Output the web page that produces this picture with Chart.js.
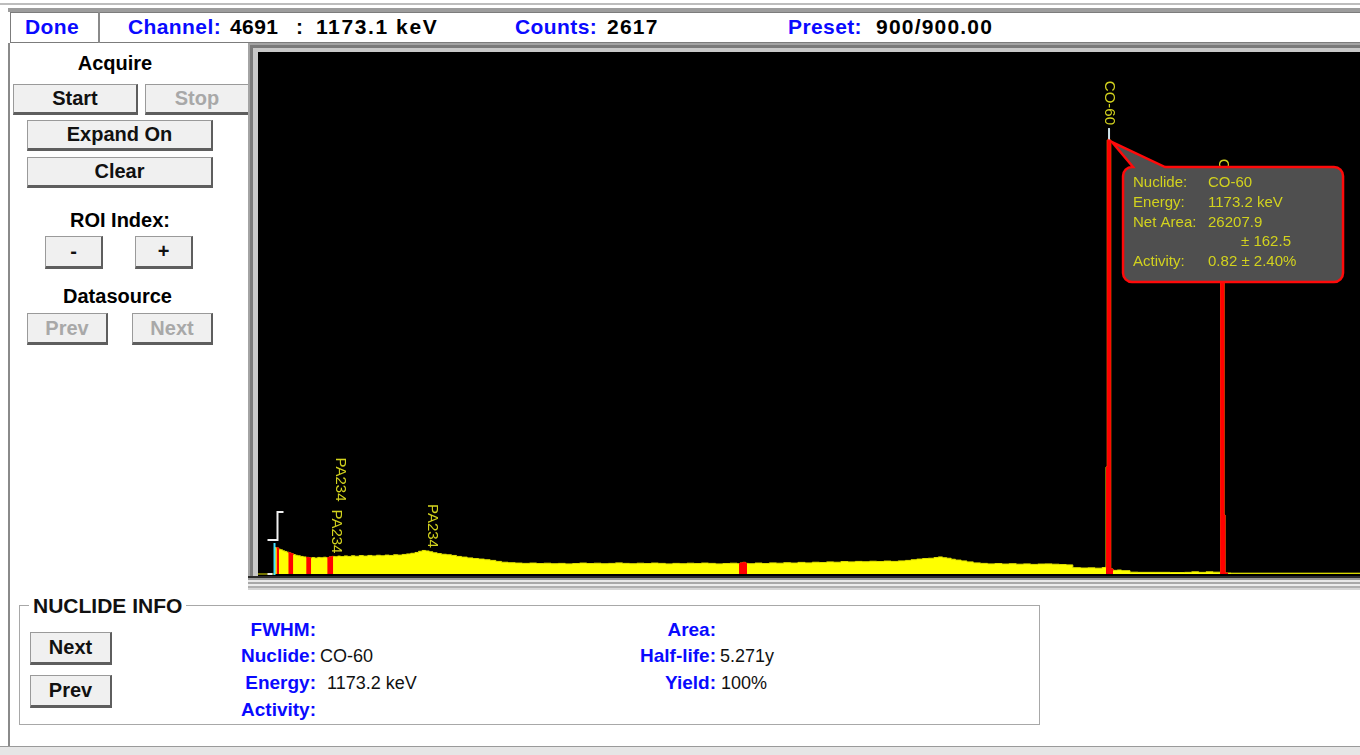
<!DOCTYPE html>
<html>
<head>
<meta charset="utf-8">
<script src="https://cdn.jsdelivr.net/npm/chart.js@4.4.0/dist/chart.umd.min.js"></script>
<style>
  body { margin: 0; width: 1360px; height: 755px; background: #fff; position: relative; overflow: hidden;
         font-family: "Liberation Sans", Arial, sans-serif; }
  .abs { position: absolute; white-space: nowrap; }
  .bold { font-weight: bold; }
  .blue { color: #0a0aff; }
  .btn { position: absolute; box-sizing: border-box; background: #f0f0f0; border: 1px solid #9a9a9a;
         border-right: 2px solid #5e5e5e; border-bottom: 3px solid #5e5e5e; font-weight: bold; font-size: 20px;
         text-align: center; color: #111; }
  .btn.off { color: #a8a8a8; }
  .st { font-size: 21px; font-weight: bold; top: 15px; letter-spacing: 0.4px; }
  .lbl { font-size: 19px; font-weight: bold; color: #0a0aff; text-align: right; }
  .val { font-size: 18px; color: #111; }
</style>
</head>
<body>
<!-- status line -->
<div class="abs" style="left:0;top:3px;width:1360px;height:2px;background:#bdbdbd"></div>
<div class="abs" style="left:8px;top:8px;width:1352px;height:4px;background:#9c9c9c"></div>
<div class="abs" style="left:10px;top:12px;width:1360px;height:31px;box-sizing:border-box;border:1px solid #7c7c7c;border-right:none"></div>
<div class="abs" style="left:98px;top:12px;width:2px;height:31px;background:#8a8a8a"></div>
<div class="abs st blue" style="left:25px">Done</div>
<div class="abs st blue" style="left:128px">Channel:</div>
<div class="abs st" style="left:230px">4691</div>
<div class="abs st" style="left:296px">:</div>
<div class="abs st" style="left:316px;letter-spacing:1.6px">1173.1 keV</div>
<div class="abs st blue" style="left:515px">Counts:</div>
<div class="abs st" style="left:607px;letter-spacing:1.2px">2617</div>
<div class="abs st blue" style="left:788px">Preset:</div>
<div class="abs st" style="left:876px;letter-spacing:1.2px">900/900.00</div>

<!-- left control panel -->
<div class="abs" style="left:8px;top:43px;width:2px;height:704px;background:#8a8a8a"></div>
<div class="abs bold" style="left:0;top:52px;width:230px;text-align:center;font-size:20px">Acquire</div>
<div class="btn" style="left:13px;top:84px;width:125px;height:31px;line-height:27px">Start</div>
<div class="btn off" style="left:145px;top:84px;width:105px;height:31px;line-height:27px">Stop</div>
<div class="btn" style="left:27px;top:120px;width:186px;height:31px;line-height:27px">Expand On</div>
<div class="btn" style="left:27px;top:157px;width:186px;height:31px;line-height:27px">Clear</div>
<div class="abs bold" style="left:0;top:209px;width:240px;text-align:center;font-size:20px">ROI Index:</div>
<div class="btn" style="left:45px;top:236px;width:58px;height:33px;line-height:29px">-</div>
<div class="btn" style="left:135px;top:236px;width:58px;height:33px;line-height:29px">+</div>
<div class="abs bold" style="left:0;top:285px;width:235px;text-align:center;font-size:20px">Datasource</div>
<div class="btn off" style="left:27px;top:313px;width:81px;height:32px;line-height:28px">Prev</div>
<div class="btn off" style="left:132px;top:313px;width:81px;height:32px;line-height:28px">Next</div>

<!-- spectrum frame -->
<div class="abs" style="left:248px;top:43px;width:1112px;height:547px;background:#a4a4a4"></div>
<div class="abs" style="left:250px;top:45px;width:1110px;height:543px;background:#7a7a7a"></div>
<div class="abs" style="left:253px;top:48px;width:1107px;height:540px;background:#c8c8c8"></div>
<div class="abs" style="left:248px;top:576px;width:1112px;height:14px;background:repeating-linear-gradient(to bottom,#2a2a2a 0 2px,#9a9a9a 2px 4px,#e8e8e8 4px 6px,#a8a8a8 6px 8px,#ececec 8px 10px,#b0b0b0 10px 12px,#d6d6d6 12px 14px)"></div>
<div class="abs" style="left:258px;top:52px;width:1102px;height:524px;background:#000">
  <canvas id="spectrum" width="1102" height="524" style="display:block;width:1102px;height:524px"></canvas>
</div>

<!-- nuclide info group -->
<div class="abs" style="left:19px;top:605px;width:1021px;height:120px;box-sizing:border-box;border:1px solid #a8a8a8;box-shadow:1px 1px 0 #fff"></div>
<div class="abs bold" style="left:29px;top:594px;padding:0 4px;background:#fff;font-size:21px;color:#111">NUCLIDE INFO</div>
<div class="btn" style="left:30px;top:632px;width:82px;height:33px;line-height:28px">Next</div>
<div class="btn" style="left:30px;top:675px;width:82px;height:33px;line-height:28px">Prev</div>
<div class="abs lbl" style="left:196px;width:120px;top:619px">FWHM:</div>
<div class="abs lbl" style="left:196px;width:120px;top:645px">Nuclide:</div>
<div class="abs lbl" style="left:196px;width:120px;top:672px">Energy:</div>
<div class="abs lbl" style="left:196px;width:120px;top:699px">Activity:</div>
<div class="abs val" style="left:320px;top:646px">CO-60</div>
<div class="abs val" style="left:327px;top:673px">1173.2 keV</div>
<div class="abs lbl" style="left:560px;width:156px;top:619px">Area:</div>
<div class="abs lbl" style="left:560px;width:156px;top:645px">Half-life:</div>
<div class="abs lbl" style="left:560px;width:156px;top:672px">Yield:</div>
<div class="abs val" style="left:720px;top:646px">5.271y</div>
<div class="abs val" style="left:721px;top:673px">100%</div>

<!-- bottom bar -->
<div class="abs" style="left:0;top:746px;width:1360px;height:9px;background:#e6e6e6;border-top:1px solid #9a9a9a"></div>

<script>
// spectrum: energy (keV) where each step starts and its counts
const spectrumKeV = [
  -14.3, 9.5, 12, 14.5, 17, 20, 23, 26, 29, 32, 35, 38, 41, 45, 49, 53, 57, 61, 65, 69,
  73, 77, 81, 85, 89, 93, 97, 101, 106, 111, 116, 121, 127, 133, 139, 145, 151, 157, 163, 169,
  175, 181, 187, 193, 199, 205, 210, 215, 220, 225, 230, 236, 242, 249, 256, 263, 270, 278, 286, 294,
  302, 310, 318, 326, 335, 345, 355, 365, 375, 385, 395, 405, 415, 425, 435, 445, 455, 465, 475, 485,
  495, 505, 515, 525, 535, 545, 555, 565, 575, 585, 595, 605, 615, 625, 635, 645, 655, 659, 663, 667,
  671, 680, 690, 700, 710, 720, 730, 740, 750, 760, 770, 780, 790, 800, 810, 820, 830, 840, 850, 860,
  870, 880, 890, 898, 906, 914, 922, 930, 936, 942, 948, 954, 960, 968, 976, 985, 995, 1005, 1015, 1025,
  1035, 1045, 1055, 1065, 1075, 1085, 1095, 1105, 1115, 1124, 1135, 1145, 1155, 1165, 1169, 1170.4, 1172.2, 1176.9, 1180.2, 1186,
  1192, 1203.9, 1215, 1240, 1260, 1280, 1290, 1300, 1310, 1320, 1329.7, 1330.6, 1335.2, 1336.6, 1345, 1525.2
];
const spectrumCounts = [
  0, 160, 157, 150, 146, 140, 136, 131, 127, 122, 117, 113, 110, 106, 103, 100, 97, 99, 96, 100,
  98, 101, 99, 103, 106, 104, 108, 105, 109, 106, 110, 107, 111, 108, 112, 109, 113, 110, 114, 112,
  116, 114, 118, 121, 125, 130, 137, 142, 139, 134, 128, 123, 119, 116, 112, 106, 102, 97, 93, 90,
  86, 82, 76, 71, 68, 66, 64, 66, 63, 65, 62, 64, 61, 63, 66, 63, 65, 62, 64, 67,
  64, 62, 65, 63, 66, 64, 61, 64, 62, 65, 63, 66, 64, 61, 63, 65, 62, 66, 70, 64,
  62, 66, 63, 67, 65, 68, 66, 70, 67, 71, 69, 73, 71, 75, 73, 76, 74, 77, 75, 78,
  76, 79, 82, 86, 90, 93, 95, 99, 103, 98, 95, 89, 84, 79, 73, 67, 64, 61, 63, 60,
  62, 59, 61, 58, 60, 61, 59, 57, 55, 38, 36, 37, 35, 39, 40, 645, 2617, 30, 22, 24,
  20, 11, 10, 10, 9, 10, 13, 10, 13, 11, 9, 2147, 356, 6, 5, 5
];

// regions of interest (keV), drawn red
const roiLowKeV  = [11.5, 28, 53, 82.4, 657.7, 1170.4, 1329.7];
const roiHighKeV = [15.1, 35, 60, 90.8, 668.9, 1180.2, 1340.8];

// nuclide tags above the peaks
const tagNuclides = ['PA234', 'PA234', 'PA234', 'CO-60', 'CO-60'];
const tagKeV = [92.8, 98.4, 227.0, 1173.2, 1332.5];
const selectedTag = 3;

// peak report for the selected peak
const reportLabels = ['Nuclide:', 'Energy:', 'Net Area:', '', 'Activity:'];
const reportValues = ['CO-60', '1173.2 keV', '26207.9', '\u00b1 162.5', '0.82 \u00b1 2.40%'];

// cursor and ROI bracket positions (keV)
const cursorKeV = 8.1;
const bracketKeV = 12.3;

const X_MIN = -14.3, X_MAX = 1525.2, Y_MIN = -12, Y_MAX = 3148;

// value of the step that covers energy e
function stepAt(e) {
  let v = 0;
  for (let i = 0; i < spectrumKeV.length; i++) {
    if (spectrumKeV[i] <= e) v = spectrumCounts[i];
  }
  return v;
}

const spectrumPoints = spectrumKeV.map((k, i) => ({ x: k, y: spectrumCounts[i] }));

const roiSets = roiLowKeV.map((lo, r) => {
  const hi = roiHighKeV[r];
  const pts = [{ x: lo, y: stepAt(lo) }];
  spectrumKeV.forEach((k, i) => { if (k > lo && k < hi) pts.push({ x: k, y: spectrumCounts[i] }); });
  pts.push({ x: hi, y: stepAt(hi) });
  return {
    data: pts, stepped: 'before', fill: 'origin', order: 1,
    backgroundColor: '#ff0000', borderColor: '#ff0000', borderWidth: 1, pointRadius: 0
  };
});

const tagColor = '#d2d21e';

const peakDecor = {
  id: 'peakDecor',
  afterDatasetsDraw(chart) {
    const { ctx, scales: { x, y } } = chart;
    const y0 = y.getPixelForValue(0);
    ctx.save();

    // cursor (cyan) and ROI bracket (white)
    const cx = Math.round(x.getPixelForValue(cursorKeV)) + 0.5;
    ctx.strokeStyle = '#40e0ff';
    ctx.lineWidth = 2;
    ctx.beginPath(); ctx.moveTo(cx, y0 + 1); ctx.lineTo(cx, y0 - 31); ctx.stroke();
    const bx = Math.round(x.getPixelForValue(bracketKeV)) + 0.5;
    ctx.strokeStyle = '#f0f0f0';
    ctx.beginPath();
    ctx.moveTo(bx + 6, y0 - 62); ctx.lineTo(bx, y0 - 62); ctx.lineTo(bx, y0 - 34); ctx.lineTo(bx - 10, y0 - 34);
    ctx.stroke();
    ctx.beginPath(); ctx.moveTo(bx - 10, y0); ctx.lineTo(bx - 5, y0); ctx.stroke();

    // nuclide tags
    ctx.font = '15px "Liberation Sans", Arial, sans-serif';
    const placed = [];
    tagNuclides.forEach((name, i) => {
      const e = tagKeV[i];
      let top = stepAt(e - 4);
      spectrumKeV.forEach((k, j) => { if (Math.abs(k - e) <= 4) top = Math.max(top, spectrumCounts[j]); });
      const px = x.getPixelForValue(e) + 1;
      const py = y.getPixelForValue(top);
      const w = ctx.measureText(name).width;
      let bottom = py - (top > 1000 ? 15 : 3);
      placed.forEach(p => { if (Math.abs(p.x - px) < 16 && bottom > p.top - 8) bottom = p.top - 8; });
      placed.push({ x: px, top: bottom - w });
      if (i === selectedTag) {
        ctx.strokeStyle = '#cfe3ea';
        ctx.lineWidth = 2;
        ctx.beginPath(); ctx.moveTo(px, py); ctx.lineTo(px, py - 12); ctx.stroke();
      }
      ctx.save();
      ctx.translate(px, bottom);
      ctx.rotate(Math.PI / 2);
      ctx.textAlign = 'right';
      ctx.textBaseline = 'middle';
      ctx.fillStyle = tagColor;
      ctx.fillText(name, 0, 0);
      ctx.restore();
    });

    // callout for the selected peak
    const tipX = x.getPixelForValue(tagKeV[selectedTag]) + 4;
    const tipY = y.getPixelForValue(stepAt(tagKeV[selectedTag] + 1)) + 2;
    const left = tipX + 11, top = tipY + 25, w = 220, h = 115, r = 9;
    ctx.beginPath();
    ctx.moveTo(left + r, top);
    ctx.lineTo(left + 10, top);
    ctx.lineTo(tipX, tipY);
    ctx.lineTo(left + 42, top);
    ctx.lineTo(left + w - r, top);
    ctx.arcTo(left + w, top, left + w, top + r, r);
    ctx.lineTo(left + w, top + h - r);
    ctx.arcTo(left + w, top + h, left + w - r, top + h, r);
    ctx.lineTo(left + r, top + h);
    ctx.arcTo(left, top + h, left, top + h - r, r);
    ctx.lineTo(left, top + r);
    ctx.arcTo(left, top, left + r, top, r);
    ctx.closePath();
    ctx.fillStyle = '#4f4f4f';
    ctx.fill();
    ctx.strokeStyle = '#ff0a0a';
    ctx.lineWidth = 2.5;
    ctx.stroke();

    ctx.font = '15px "Liberation Sans", Arial, sans-serif';
    ctx.fillStyle = tagColor;
    ctx.textBaseline = 'middle';
    ctx.textAlign = 'left';
    reportLabels.forEach((lab, i) => {
      const ly = top + 16 + i * 19.7;
      ctx.fillText(lab, left + 10, ly);
      ctx.fillText(reportValues[i], left + (lab ? 85 : 118), ly);
    });
    ctx.restore();
  }
};

new Chart(document.getElementById('spectrum'), {
  type: 'line',
  data: {
    datasets: [
      {
        data: spectrumPoints, stepped: 'before', fill: 'origin', order: 2,
        backgroundColor: '#ffff00', borderColor: '#e4e400', borderWidth: 1, pointRadius: 0
      },
      ...roiSets
    ]
  },
  options: {
    responsive: false,
    animation: false,
    layout: { padding: 0 },
    plugins: { legend: { display: false }, tooltip: { enabled: false } },
    scales: {
      x: { type: 'linear', min: X_MIN, max: X_MAX, display: false },
      y: { min: Y_MIN, max: Y_MAX, display: false }
    }
  },
  plugins: [peakDecor]
});
</script>
</body>
</html>
